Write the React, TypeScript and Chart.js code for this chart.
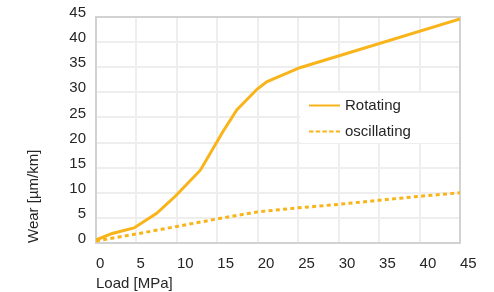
import React, { useEffect, useRef } from "react";
import { Chart, registerables } from "chart.js";

Chart.register(...registerables);

const rotatingLoad = [0, 2, 4.7, 7.5, 9.8, 12.9, 15.7, 17.4, 19.9, 21.1, 25.2, 45];
const rotatingWear = [0.6, 1.9, 3.0, 5.9, 9.3, 14.5, 22.2, 26.5, 30.6, 32.1, 34.9, 44.6];
const oscillatingLoad = [0, 5, 10, 15, 20, 25, 30, 35, 40, 45];
const oscillatingWear = [0.4, 1.8, 3.3, 4.8, 6.2, 7.0, 7.7, 8.5, 9.3, 10.0];
const seriesNames = ["Rotating", "oscillating"];
const xTitle = "Load [MPa]";
const yTitle = "Wear [µm/km]";
const axisMax = 45;
const tickStep = 5;

const LINE_COLOR = "#F9B41A";
const TEXT_COLOR = "#262626";
const FONT = "'Liberation Sans', Arial, sans-serif";

const framePlugin = {
  id: "frame",
  beforeDatasetsDraw(chart: any) {
    const { ctx, chartArea: a } = chart;
    ctx.save();
    ctx.strokeStyle = "#d2d2d2";
    ctx.lineWidth = 2;
    ctx.strokeRect(a.left, a.top, a.right - a.left, a.bottom - a.top);
    ctx.restore();
  },
  afterDatasetsDraw(chart: any) {
    const { ctx, chartArea: a } = chart;
    ctx.save();
    const bx = a.left + 204;
    const by = a.top + 76;
    ctx.fillStyle = "#ffffff";
    ctx.fillRect(bx, by, a.right - 1 - bx, 50);
    const lx0 = bx + 9;
    const lx1 = bx + 40;
    const rows = [by + 12.5, by + 38.5];
    ctx.strokeStyle = LINE_COLOR;
    ctx.lineWidth = 2;
    rows.forEach((y, i) => {
      ctx.setLineDash(i === 0 ? [] : [4.5, 2.2]);
      ctx.beginPath();
      ctx.moveTo(lx0, y);
      ctx.lineTo(lx1, y);
      ctx.stroke();
      ctx.setLineDash([]);
      ctx.fillStyle = TEXT_COLOR;
      ctx.font = `15px ${FONT}`;
      ctx.textBaseline = "middle";
      ctx.textAlign = "left";
      ctx.fillText(seriesNames[i], bx + 45, y + 0.5);
    });
    ctx.restore();
  },
};

export default function App() {
  const ref = useRef<HTMLCanvasElement | null>(null);
  useEffect(() => {
    if (!ref.current) return;
    const chart = new Chart(ref.current, {
      type: "line",
      data: {
        datasets: [
          {
            label: seriesNames[0],
            data: rotatingLoad.map((x, i) => ({ x, y: rotatingWear[i] })),
            borderColor: LINE_COLOR,
            borderWidth: 3,
            pointRadius: 0,
            tension: 0,
            fill: false,
          },
          {
            label: seriesNames[1],
            data: oscillatingLoad.map((x, i) => ({ x, y: oscillatingWear[i] })),
            borderColor: LINE_COLOR,
            borderWidth: 3,
            borderDash: [4, 3.3],
            pointRadius: 0,
            tension: 0,
            fill: false,
          },
        ],
      },
      options: {
        responsive: false,
        animation: false,
        layout: { padding: { left: 0, top: 17, right: 34, bottom: 0 } },
        plugins: { legend: { display: false }, tooltip: { enabled: false } },
        scales: {
          x: {
            type: "linear",
            min: 0,
            max: axisMax,
            border: { display: false },
            grid: { color: "#eeeeee", lineWidth: 2, drawTicks: false },
            ticks: {
              stepSize: tickStep,
              align: "start",
              padding: 12,
              color: TEXT_COLOR,
              font: { family: FONT, size: 15 },
              maxRotation: 0,
            },
            title: {
              display: true,
              text: xTitle,
              align: "start",
              color: TEXT_COLOR,
              font: { family: FONT, size: 15, lineHeight: 1 },
              padding: { top: 0, bottom: 0.5 },
            },
            afterFit(scale: any) {
              scale.height = 49;
              scale.paddingLeft = 0;
              scale.paddingRight = 0;
            },
          },
          y: {
            min: 0,
            max: axisMax,
            border: { display: false },
            grid: { color: "#eeeeee", lineWidth: 2, drawTicks: false },
            ticks: {
              stepSize: tickStep,
              align: "end",
              labelOffset: 3.5,
              padding: 10,
              color: TEXT_COLOR,
              font: { family: FONT, size: 15 },
            },
            title: {
              display: true,
              text: yTitle,
              align: "start",
              color: TEXT_COLOR,
              font: { family: FONT, size: 15 },
              padding: { top: 25, bottom: 0 },
            },
            afterFit(scale: any) {
              scale.width = 96;
              scale.paddingTop = 0;
              scale.paddingBottom = 0;
            },
          },
        },
      },
      plugins: [framePlugin],
    });
    return () => chart.destroy();
  }, []);
  return (
    <div style={{ position: "absolute", left: 0, top: 0, width: 494, height: 292, background: "#fff" }}>
      <canvas ref={ref} width={494} height={292} />
    </div>
  );
}
